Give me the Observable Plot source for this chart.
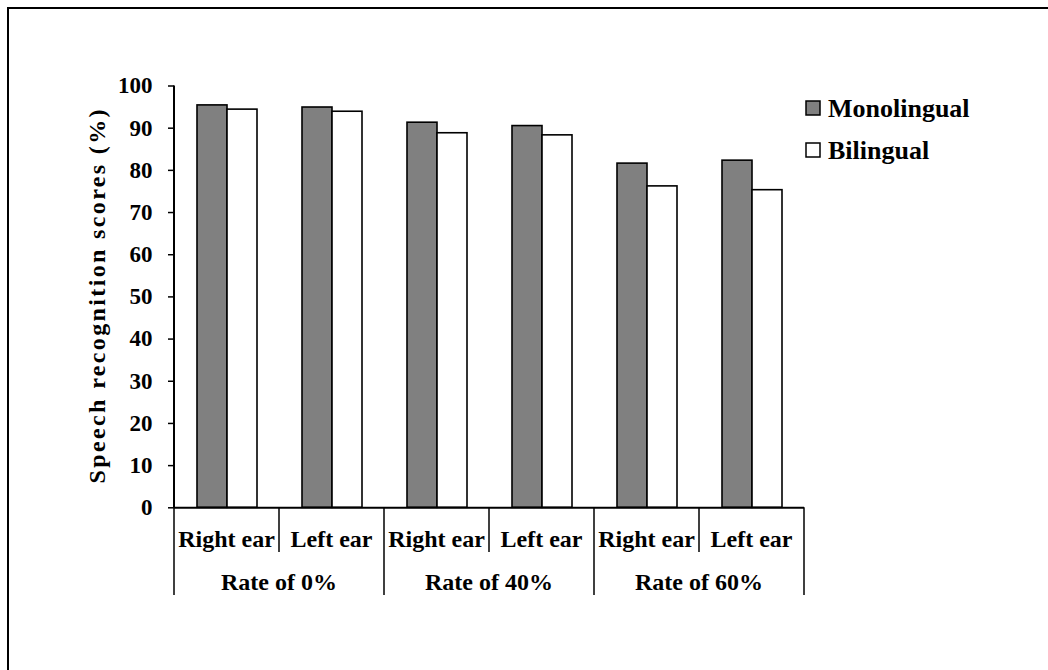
<!DOCTYPE html>
<html><head><meta charset="utf-8">
<script src="https://cdn.jsdelivr.net/npm/d3@7"></script>
<script src="https://cdn.jsdelivr.net/npm/@observablehq/plot@0.6"></script>
<style>
html,body{margin:0;padding:0;background:#fff;overflow:hidden}
#chart{width:1048px;height:670px;}
</style></head><body><div id="chart"></div>
<script>
const rates = ["Rate of 0%", "Rate of 40%", "Rate of 60%"];
const ears = ["Right ear", "Left ear"];
const series = ["Monolingual", "Bilingual"];
const monolingual = [95.4, 94.9, 91.3, 90.5, 81.6, 82.3];
const bilingual = [94.4, 93.9, 88.8, 88.3, 76.2, 75.3];
const yTicks = [0, 10, 20, 30, 40, 50, 60, 70, 80, 90, 100];
const colors = ["#808080", "#ffffff"];
const yLabel = "Speech recognition scores (%)";

const groups = rates.flatMap(r => ears.map(e => ({rate: r, ear: e, key: r + " | " + e})));
const data = groups.flatMap((g, i) => [
  {...g, series: series[0], value: monolingual[i]},
  {...g, series: series[1], value: bilingual[i]}
]);

const font = '"Liberation Serif","Times New Roman",serif';
const chart = Plot.plot({
  width: 1048, height: 670,
  marginLeft: 172, marginRight: 243, marginTop: 85.5, marginBottom: 162.7,
  style: {fontFamily: font, fontWeight: "bold", fontSize: "23px", background: "white", color: "black", overflow: "visible"},
  fx: {domain: groups.map(g => g.key), padding: 0, axis: null},
  x: {domain: series, paddingInner: 0, paddingOuter: 0.728, axis: null},
  y: {domain: [0, 100]},
  color: {domain: series, range: colors},
  marks: [
    Plot.barY(data, {fx: "key", x: "series", y: "value", fill: "series", stroke: "black", strokeWidth: 1.6}),
    Plot.ruleY([0], {stroke: "black", strokeWidth: 2}),
    Plot.axisY({ticks: yTicks, tickSize: 6, tickPadding: 16, label: null, fontSize: 23, strokeWidth: 1.5})
  ]
});
document.getElementById("chart").appendChild(chart);

const svg = d3.select(chart);
const fx = chart.scale("fx"), y = chart.scale("y");
const bw = fx.bandwidth;
const x0 = fx.apply(groups[0].key);
const y0 = y.apply(0), y100 = y.apply(100);

// outer border (cropped at right/bottom)
svg.append("rect").attr("x", 8).attr("y", 8).attr("width", 1100).attr("height", 700)
  .attr("fill", "none").attr("stroke", "black").attr("stroke-width", 2);

// y axis line
svg.append("line").attr("x1", x0).attr("x2", x0).attr("y1", y0).attr("y2", y100)
  .attr("stroke", "black").attr("stroke-width", 2);

// category table below the axis
groups.forEach((g, i) => {
  const left = fx.apply(g.key);
  svg.append("line").attr("x1", left).attr("x2", left).attr("y1", y0)
    .attr("y2", i % 2 === 0 ? 595 : 552).attr("stroke", "black").attr("stroke-width", 1.5);
  svg.append("text").attr("x", left + bw / 2).attr("y", 547).attr("text-anchor", "middle")
    .attr("font-family", font).attr("font-weight", "bold").attr("font-size", 24).text(g.ear);
});
const xEnd = fx.apply(groups[groups.length - 1].key) + bw;
svg.append("line").attr("x1", xEnd).attr("x2", xEnd).attr("y1", y0).attr("y2", 595)
  .attr("stroke", "black").attr("stroke-width", 1.5);
rates.forEach((r, i) => {
  const left = fx.apply(groups[i * 2].key);
  svg.append("text").attr("x", left + bw).attr("y", 590).attr("text-anchor", "middle")
    .attr("font-family", font).attr("font-weight", "bold").attr("font-size", 24).text(r);
});

// y label
svg.append("text").attr("transform", `translate(97,${(y0 + y100) / 2}) rotate(-90)`)
  .attr("text-anchor", "middle").attr("dy", "0.35em")
  .attr("font-family", font).attr("font-weight", "bold").attr("font-size", 24)
  .attr("textLength", 374).attr("lengthAdjust", "spacing").text(yLabel);

// legend
const legY = [108, 150];
series.forEach((s, i) => {
  svg.append("rect").attr("x", 806).attr("y", legY[i] - 7).attr("width", 14).attr("height", 14)
    .attr("fill", colors[i]).attr("stroke", "black").attr("stroke-width", 1.5);
  svg.append("text").attr("x", 828).attr("y", legY[i]).attr("dy", "0.35em").attr("text-anchor", "start")
    .attr("font-family", font).attr("font-weight", "bold").attr("font-size", 26).text(s);
});
</script></body></html>
